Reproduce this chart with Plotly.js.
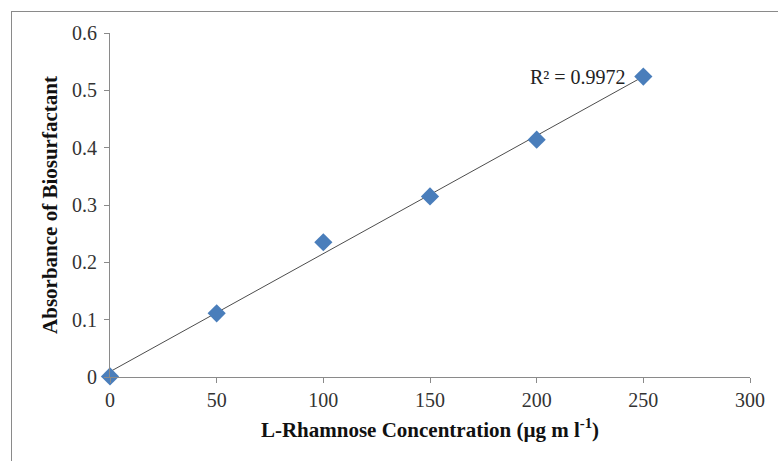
<!DOCTYPE html>
<html>
<head>
<meta charset="utf-8">
<script src="https://cdn.plot.ly/plotly-3.0.1.min.js"></script>
<style>
  html, body { margin: 0; padding: 0; background: #fff; }
  #wrap { position: relative; width: 778px; height: 461px; overflow: hidden; }
  #chart { position: absolute; left: 0; top: 0; width: 778px; height: 461px; }
  #frame { position: absolute; left: 11px; top: 11px; width: 800px; height: 480px;
           border: 1.5px solid #8a8a8a; pointer-events: none; box-sizing: border-box; }
</style>
</head>
<body>
<div id="wrap">
  <div id="chart"></div>
  <div id="frame"></div>
</div>
<script>
const concentration = [0, 50, 100, 150, 200, 250];
const absorbance = [0.001, 0.111, 0.235, 0.315, 0.414, 0.524];
const r2Label = "R² = 0.9972";
const xTitle = "L-Rhamnose Concentration (µg m l<sup>-1</sup>)";
const yTitle = "Absorbance of Biosurfactant";

// least-squares trendline from the data
const n = concentration.length;
const mx = concentration.reduce((a, b) => a + b, 0) / n;
const my = absorbance.reduce((a, b) => a + b, 0) / n;
let sxy = 0, sxx = 0;
for (let i = 0; i < n; i++) {
  sxy += (concentration[i] - mx) * (absorbance[i] - my);
  sxx += (concentration[i] - mx) ** 2;
}
const slope = sxy / sxx;
const intercept = my - slope * mx;
const trendX = [concentration[0], concentration[n - 1]];
const trendY = trendX.map(x => intercept + slope * x);

const font = "Liberation Serif, Times New Roman, serif";

const data = [
  {
    x: trendX, y: trendY, type: "scatter", mode: "lines", cliponaxis: false,
    line: { color: "#4d4d4d", width: 1 }, hoverinfo: "skip", showlegend: false
  },
  {
    x: concentration, y: absorbance, type: "scatter", mode: "markers", cliponaxis: false,
    marker: { symbol: "diamond", size: 14, color: "#4a7ebb" }, showlegend: false
  }
];

const layout = {
  width: 778, height: 461,
  margin: { l: 110, r: 28, t: 33, b: 84 },
  paper_bgcolor: "#fff", plot_bgcolor: "#fff",
  font: { family: font, color: "#333" },
  showlegend: false,
  xaxis: {
    range: [0, 300], tickvals: [0, 50, 100, 150, 200, 250, 300],
    showgrid: false, zeroline: false,
    showline: true, linecolor: "#8a8a8a", linewidth: 1,
    ticks: "outside", ticklen: 5, tickcolor: "#8a8a8a",
    tickfont: { size: 20, family: font, color: "#333" },
    title: { text: xTitle, font: { size: 21, family: font, color: "#111", weight: "bold" }, standoff: 12 }
  },
  yaxis: {
    range: [0, 0.6], tickvals: [0, 0.1, 0.2, 0.3, 0.4, 0.5, 0.6],
    ticktext: ["0", "0.1", "0.2", "0.3", "0.4", "0.5", "0.6"],
    showgrid: false, zeroline: false,
    showline: true, linecolor: "#8a8a8a", linewidth: 1,
    ticks: "outside", ticklen: 5, tickcolor: "#8a8a8a",
    ticklabelstandoff: 3,
    tickfont: { size: 20, family: font, color: "#333" },
    title: { text: yTitle, font: { size: 21, family: font, color: "#111", weight: "bold" }, standoff: 8 }
  },
  annotations: [{
    x: concentration[n - 1], y: absorbance[n - 1], xref: "x", yref: "y",
    text: r2Label, showarrow: false, xanchor: "right", yanchor: "middle",
    xshift: -15, font: { size: 20, family: font, color: "#222" }
  }]
};

Plotly.newPlot("chart", data, layout, { displayModeBar: false, staticPlot: true });
</script>
</body>
</html>
